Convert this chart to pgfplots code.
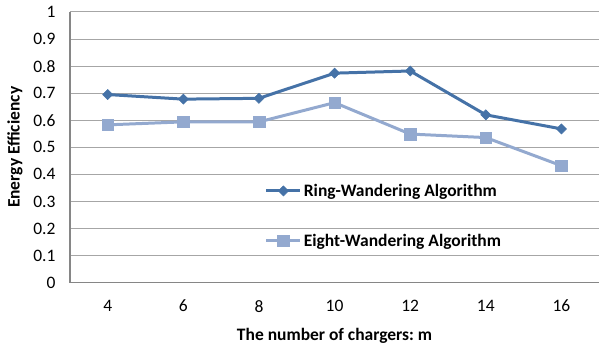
\documentclass[border=0pt]{standalone}
\usepackage{pgfplots}
\pgfplotsset{compat=1.18}
\usepackage{fontspec}
\setmainfont{Carlito}
\usetikzlibrary{calc}
\frenchspacing
\definecolor{ring}{HTML}{4572A7}
\definecolor{eight}{HTML}{93A9CF}
\definecolor{gridc}{HTML}{A6A6A6}
\definecolor{axc}{HTML}{868686}
\begin{document}
\begin{tikzpicture}
\begin{axis}[
  scale only axis, width=530pt, height=271pt,
  xmin=-0.5, xmax=6.5, ymin=0, ymax=1,
  xtick={0,1,2,3,4,5,6}, xticklabels={4,6,8,10,12,14,16},
  ytick={0,0.1,0.2,0.3,0.4,0.5,0.6,0.7,0.8,0.9,1},
  ymajorgrids, grid style={gridc, line width=1pt},
  axis x line*=bottom, axis y line*=left,
  axis line style={axc, line width=1.5pt, -},
  major tick length=0pt,
  tick label style={font=\fontsize{17.5}{21}\selectfont, text=black},
  /pgf/number format/assume math mode=true,
  xticklabel style={yshift=-14pt},
  yticklabel style={xshift=-11pt},
  xlabel={The number of chargers:\ m},
  ylabel={Energy Efficiency},
  label style={font=\fontsize{17.5}{21}\selectfont\bfseries},
  xlabel style={at={(axis description cs:0.5,-0.197)}, anchor=center},
  ylabel style={at={(axis description cs:-0.104,0.5)}, anchor=center},
  legend style={at={(rel axis cs:0.368,0.247)}, anchor=west, draw=none, fill=none,
    font=\fontsize{17.5}{21}\selectfont\bfseries, row sep=32pt, inner xsep=0pt,
    nodes={inner xsep=2pt}},
  legend image code/.code={\draw[mark repeat=2,mark phase=2] plot coordinates {(0pt,0pt) (17pt,0pt) (34pt,0pt)};},
  legend cell align=left,
  clip=false,
]
\addplot[ring, line width=3pt, mark=square*, mark size=3.6pt, mark options={solid, rotate=45, line width=0.5pt}]
  coordinates {(0,0.695) (1,0.678) (2,0.681) (3,0.774) (4,0.782) (5,0.620) (6,0.568)};
\addlegendentry{Ring-Wandering Algorithm}
\addplot[eight, line width=3pt, mark=square*, mark size=5.8pt, mark options={solid, line width=0.5pt}]
  coordinates {(0,0.583) (1,0.594) (2,0.594) (3,0.665) (4,0.549) (5,0.536) (6,0.432)};
\addlegendentry{Eight-Wandering Algorithm}
\coordinate (bl) at (rel axis cs:0,0);
\coordinate (tr) at (rel axis cs:1,1);
\end{axis}
\path[use as bounding box] ($(bl)+(-70pt,-65pt)$) rectangle ($(tr)+(0pt,12pt)$);
\end{tikzpicture}
\end{document}
